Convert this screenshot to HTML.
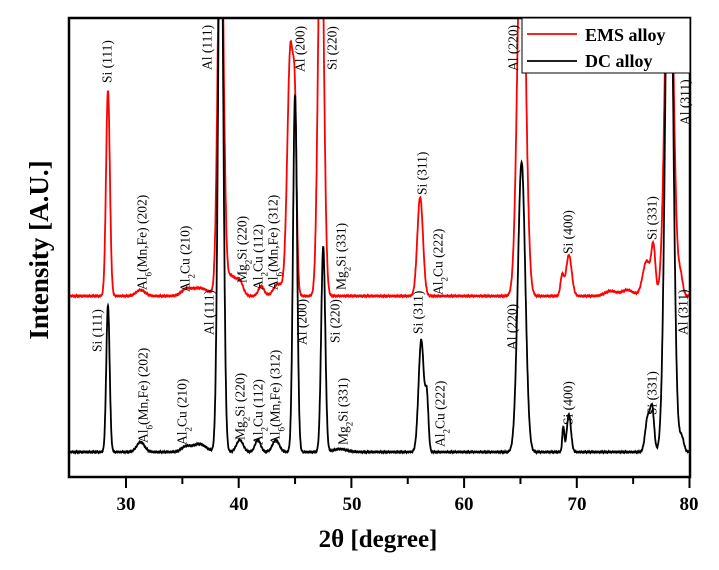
<!DOCTYPE html>
<html><head><meta charset="utf-8"><style>
html,body{margin:0;padding:0;background:#fff;}
svg{display:block;font-family:"Liberation Serif",serif;}
</style></head><body>
<svg id="s" width="719" height="570" viewBox="0 0 719 570" xmlns="http://www.w3.org/2000/svg">
<defs><clipPath id="c"><rect x="69" y="18" width="621" height="459"/></clipPath></defs>
<g clip-path="url(#c)">
<path id="red" fill="none" stroke="#ff0000" stroke-width="1.8"/>
<path id="blk" fill="none" stroke="#000" stroke-width="1.8"/>
</g>
<rect x="69" y="18" width="621" height="459" fill="none" stroke="#000" stroke-width="2.5"/>
<g id="ticks" stroke="#000" stroke-width="2"></g>
<g font-weight="bold" font-size="19" text-anchor="middle">
<text x="126" y="510">30</text><text x="239" y="510">40</text><text x="352" y="510">50</text>
<text x="464" y="510">60</text><text x="577" y="510">70</text><text x="689" y="510">80</text>
</g>
<text x="378" y="547" font-weight="bold" font-size="25" text-anchor="middle">2θ [degree]</text>
<text transform="translate(48,250) rotate(-90)" font-weight="bold" font-size="27" text-anchor="middle">Intensity [A.U.]</text>
<g id="labels" font-size="13.5"></g>
<rect x="522" y="18" width="168" height="55" fill="#fff" stroke="#000" stroke-width="1"/>
<line x1="527" y1="34" x2="577" y2="34" stroke="#ff0000" stroke-width="1.8"/>
<line x1="527" y1="61" x2="577" y2="61" stroke="#000" stroke-width="1.8"/>
<text x="585" y="41" font-weight="bold" font-size="18">EMS alloy</text>
<text x="585" y="67" font-weight="bold" font-size="18">DC alloy</text>
</svg>
<script>
function X(d){return 126+(d-30)*11.27;}
function build(base,peaks,noise){
 var p="";
 for(var d=25;d<=80.001;d+=0.02){
  var y=base;
  for(var i=0;i<peaks.length;i++){var k=peaks[i];var z=(d-k[0])/k[2];y-=k[1]*Math.exp(-0.5*z*z);}
  y+=Math.sin(d*37)*noise+Math.sin(d*91)*noise*0.5;
  p+=(p?"L":"M")+X(d).toFixed(1)+","+y.toFixed(1);
 }
 return p;
}
var red=[[28.4,206,0.17],[31.3,6,0.4],[35.3,5,0.4],[36.5,8,0.8],[38.4,420,0.25],[39.3,20,0.4],[40.1,14,0.3],[42,10,0.25],[43.5,12,0.4],[44.6,250,0.28],[45.0,120,0.15],[47.3,420,0.25],[56.1,99,0.25],[65.1,420,0.35],[68.7,20,0.15],[69.3,41,0.25],[73,5,0.5],[74.5,6,0.5],[76.2,35,0.35],[76.8,45,0.18],[78.2,420,0.35],[79.2,20,0.2]];
var blk=[[28.4,147,0.15],[31.3,10,0.35],[35.3,5,0.4],[36.5,8,0.6],[38.4,620,0.22],[40.1,12,0.3],[41.7,12,0.25],[43.3,12,0.3],[45.0,357,0.18],[47.5,205,0.18],[49,3,0.6],[56.2,112,0.24],[56.7,50,0.14],[65.1,290,0.33],[68.8,25,0.09],[69.3,38,0.18],[76.3,35,0.22],[76.7,40,0.17],[78.2,620,0.33],[79.3,15,0.2]];
document.getElementById("red").setAttribute("d",build(296,red,0.5));
document.getElementById("blk").setAttribute("d",build(452,blk,0.5));
var t="";
for(var d=30;d<=80;d+=5){var x=X(d);t+='<line x1="'+x+'" y1="477" x2="'+x+'" y2="'+(d%10==0?488:484)+'"/>';}
document.getElementById("ticks").innerHTML=t;
var L=[
["Si (111)",107,83],["Al<tspan baseline-shift='sub' font-size='9'>6</tspan>(Mn,Fe) (202)",142,290],["Al<tspan baseline-shift='sub' font-size='9'>2</tspan>Cu (210)",185,292],["Al (111)",207,70],["Mg<tspan baseline-shift='sub' font-size='9'>2</tspan>Si (220)",242,283],["Al<tspan baseline-shift='sub' font-size='9'>2</tspan>Cu (112)",258,290],["Al<tspan baseline-shift='sub' font-size='9'>6</tspan>(Mn,Fe) (312)",273,290],["Al (200)",300,72],["Si (220)",332,70],["Mg<tspan baseline-shift='sub' font-size='9'>2</tspan>Si (331)",341,290],["Si (311)",422,195],["Al<tspan baseline-shift='sub' font-size='9'>2</tspan>Cu (222)",438,295],["Al (220)",513,71],["Si (400)",568,254],["Si (331)",652,240],["Al (311)",685,125],
["Si (111)",97,352],["Al<tspan baseline-shift='sub' font-size='9'>6</tspan>(Mn,Fe) (202)",143,443],["Al<tspan baseline-shift='sub' font-size='9'>2</tspan>Cu (210)",182,445],["Al (111)",209,335],["Mg<tspan baseline-shift='sub' font-size='9'>2</tspan>Si (220)",240,440],["Al<tspan baseline-shift='sub' font-size='9'>2</tspan>Cu (112)",258,445],["Al<tspan baseline-shift='sub' font-size='9'>6</tspan>(Mn,Fe) (312)",275,445],["Al (200)",302,345],["Si (220)",335,343],["Mg<tspan baseline-shift='sub' font-size='9'>2</tspan>Si (331)",343,445],["Si (311)",418,334],["Al<tspan baseline-shift='sub' font-size='9'>2</tspan>Cu (222)",440,447],["Al (220)",512,350],["Si (400)",568,425],["Si (331)",652,415],["Al (311)",683,335]];
var h="";
for(var i=0;i<L.length;i++){var a=L[i];h+='<text transform="translate('+(a[1]+4.5)+','+a[2]+') rotate(-90)">'+a[0]+'</text>';}
document.getElementById("labels").innerHTML=h;
</script>
</body></html>
